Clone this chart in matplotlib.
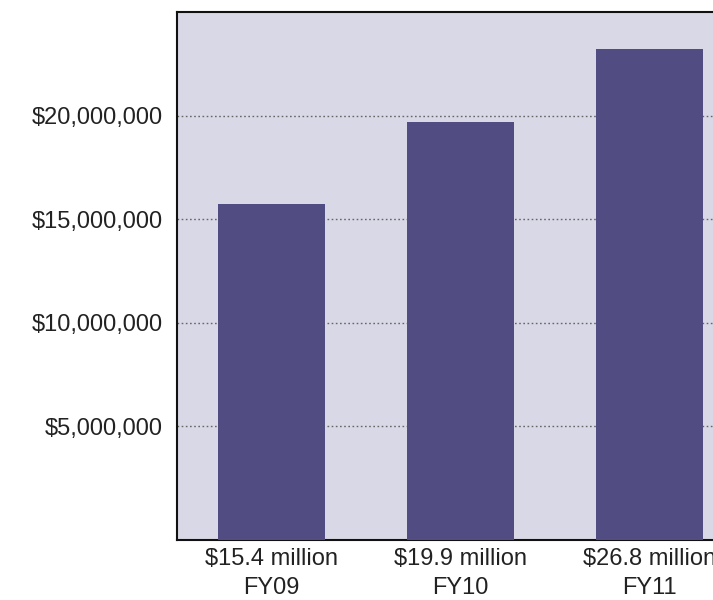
import matplotlib.pyplot as plt

# datos del grafico
years = ['FY09', 'FY10', 'FY11']
totals = ['$15.4 million', '$19.9 million', '$26.8 million']
bar_values = [15.75e6, 19.7e6, 23.2e6]
yticks = [5e6, 10e6, 15e6, 20e6]

plt.rcParams['font.family'] = ['Liberation Sans', 'DejaVu Sans']

fig = plt.figure(figsize=(7.13, 6), dpi=100)
# el eje se sale un poco por la derecha, como en la imagen original
ax = fig.add_axes([177 / 713, 60 / 600, 567 / 713, 528 / 600])
ax.set_facecolor('#d9d8e6')

ymin, ymax = -0.48e6, 25e6
x = list(range(len(years)))
# las barras arrancan desde el borde inferior del eje
ax.bar(x, [v - ymin for v in bar_values], bottom=ymin, width=0.57,
       color='#514d82', zorder=3)

ax.set_xlim(-0.5, 2.5)
ax.set_ylim(ymin, ymax)

ax.set_yticks(yticks)
ax.set_yticklabels(['${:,.0f}'.format(v) for v in yticks], fontsize=17, color='#222222')
ax.yaxis.grid(True, linestyle=(0, (1.2, 1.8)), color='#666666', linewidth=1.0, zorder=1)

ax.set_xticks(x)
ax.set_xticklabels([t + '\n' + y for t, y in zip(totals, years)], fontsize=17,
                   color='#222222', linespacing=1.4)
ax.tick_params(axis='y', length=0, pad=10)
ax.tick_params(axis='x', length=0, pad=6)

for s in ['left', 'bottom', 'top']:
    ax.spines[s].set_linewidth(1.5)
    ax.spines[s].set_color('#111111')
ax.spines['right'].set_visible(False)

fig.savefig('out.png', dpi=100)
